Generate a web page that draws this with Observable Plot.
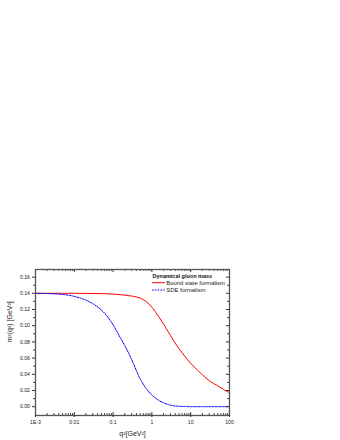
<!DOCTYPE html>
<html><head><meta charset="utf-8">
<script src="https://cdn.jsdelivr.net/npm/d3@7"></script>
<script src="https://cdn.jsdelivr.net/npm/@observablehq/plot@0.6"></script>
<style>body{margin:0;background:#fff}#chart svg{display:block}</style>
</head><body><div id="chart"></div>
<script>
// ---- data ----
const q2 = [0.001, 0.002, 0.003, 0.005, 0.007, 0.01, 0.015, 0.02, 0.03, 0.05, 0.07, 0.1, 0.15, 0.2, 0.3, 0.5, 0.7, 1, 1.5, 2, 3, 5, 7, 10, 15, 20, 30, 50, 70, 100];
const boundState = [0.1400, 0.1400, 0.1400, 0.1400, 0.1400, 0.1400, 0.1399, 0.1399, 0.1398, 0.1396, 0.1394, 0.1390, 0.1384, 0.1377, 0.1366, 0.1340, 0.1302, 0.1228, 0.1112, 0.1020, 0.0880, 0.0715, 0.0625, 0.0535, 0.0450, 0.0395, 0.0320, 0.0258, 0.0213, 0.0173];
const sde = [0.1400, 0.1397, 0.1394, 0.1386, 0.1377, 0.1362, 0.1338, 0.1315, 0.1272, 0.1192, 0.1118, 0.1010, 0.0860, 0.0755, 0.0583, 0.0342, 0.0230, 0.0144, 0.0078, 0.0048, 0.0018, 0.0005, 0.0002, 0.0000, 0.0000, 0.0000, 0.0000, 0.0000, 0.0000, 0.0000];
const seriesNames = ["Bound state formalism", "SDE formalism"];
const legendTitle = "Dynamical gluon mass";
const xTicks = [0.001, 0.01, 0.1, 1, 10, 100];
const xTickLabels = ["1E-3", "0.01", "0.1", "1", "10", "100"];
const xMinorTicks = [0.002,0.003,0.004,0.005,0.006,0.007,0.008,0.009,
  0.02,0.03,0.04,0.05,0.06,0.07,0.08,0.09,
  0.2,0.3,0.4,0.5,0.6,0.7,0.8,0.9,
  2,3,4,5,6,7,8,9, 20,30,40,50,60,70,80,90];
const yTicks = [0.00, 0.02, 0.04, 0.06, 0.08, 0.10, 0.12, 0.14, 0.16];
const yTickLabels = ["0.00", "0.02", "0.04", "0.06", "0.08", "0.10", "0.12", "0.14", "0.16"];
const yMinorTicks = [0.01, 0.03, 0.05, 0.07, 0.09, 0.11, 0.13, 0.15];
const xLabel = "q²[GeV²]";
const yLabel = "m²(q²) [GeV²]";

const boundRows = q2.map((q, i) => ({q, m: boundState[i]}));
const sdeRows = q2.map((q, i) => ({q, m: sde[i]}));

// ---- layout ----
const W = 340, H = 440, mt = 269, mb = 25, ml = 35, mr = 111;
const ph = H - mt - mb, pw = W - ml - mr;
const tickCol = "#333";

const chart = Plot.plot({
  width: W, height: H,
  marginTop: mt, marginBottom: mb, marginLeft: ml, marginRight: mr,
  style: {fontFamily: "'Liberation Sans', Arial, sans-serif", fontSize: "5.2px", background: "#fff", color: "#222"},
  x: {type: "log", domain: [0.001, 100]},
  y: {domain: [-0.0109, 0.1694]},
  marks: [
    Plot.line(boundRows, {x: "q", y: "m", stroke: "#ff0000", strokeWidth: 1, curve: "monotone-x"}),
    Plot.line(sdeRows, {x: "q", y: "m", stroke: "#0000ff", strokeWidth: 1, strokeDasharray: "1.6,1.2", curve: "monotone-x"}),
    // inward ticks: bottom, top, right
    Plot.gridX(xTicks, {insetTop: ph - 3, stroke: tickCol, strokeOpacity: 1}),
    Plot.gridX(xMinorTicks, {insetTop: ph - 1.8, stroke: tickCol, strokeOpacity: 1}),
    Plot.gridX(xTicks, {insetBottom: ph - 3, stroke: tickCol, strokeOpacity: 1}),
    Plot.gridX(xMinorTicks, {insetBottom: ph - 1.8, stroke: tickCol, strokeOpacity: 1}),
    Plot.gridY(yTicks, {insetLeft: pw - 3, stroke: tickCol, strokeOpacity: 1}),
    Plot.gridY(yMinorTicks, {insetLeft: pw - 1.8, stroke: tickCol, strokeOpacity: 1}),
    Plot.frame({stroke: "#555", strokeWidth: 1.3}),
    Plot.axisX({ticks: xTicks, tickSize: 2, tickPadding: 3, stroke: tickCol,
      tickFormat: d => xTickLabels[xTicks.indexOf(d)], label: null}),
    Plot.axisY({ticks: yTicks, tickSize: 3, tickPadding: 2.5, stroke: tickCol,
      tickFormat: d => yTickLabels[yTicks.indexOf(d)], label: null}),
    Plot.axisY({ticks: yMinorTicks, tickSize: 1.8, stroke: tickCol, tickFormat: () => "", label: null}),
    Plot.text([xLabel], {frameAnchor: "bottom", dy: 20, fontSize: 7, fill: "#222"}),
    Plot.text([yLabel], {frameAnchor: "left", dx: -25.5, rotate: -90, fontSize: 7, fill: "#222"})
  ]
});
document.getElementById("chart").append(chart);

// ---- legend (inside the plot frame, top right) ----
const svg = d3.select(chart);
const lg = svg.append("g").attr("font-family", "'Liberation Sans', Arial, sans-serif")
  .attr("text-anchor", "start");
lg.append("text").attr("x", 152.5).attr("y", 275.6).attr("dy", "0.35em")
  .attr("font-size", 5.5).attr("font-weight", "bold").attr("fill", "#111").text(legendTitle);
const items = [
  {name: seriesNames[0], color: "#ff0000", dash: null, y: 282.7},
  {name: seriesNames[1], color: "#0000ff", dash: "1.6,1.2", y: 290}
];
for (const it of items) {
  lg.append("line").attr("x1", 152).attr("x2", 165).attr("y1", it.y).attr("y2", it.y)
    .attr("stroke", it.color).attr("stroke-width", 1).attr("stroke-dasharray", it.dash);
  lg.append("text").attr("x", 166.3).attr("y", it.y).attr("dy", "0.35em")
    .attr("font-size", 5.9).attr("fill", "#222").text(it.name);
}
</script>
</body></html>
